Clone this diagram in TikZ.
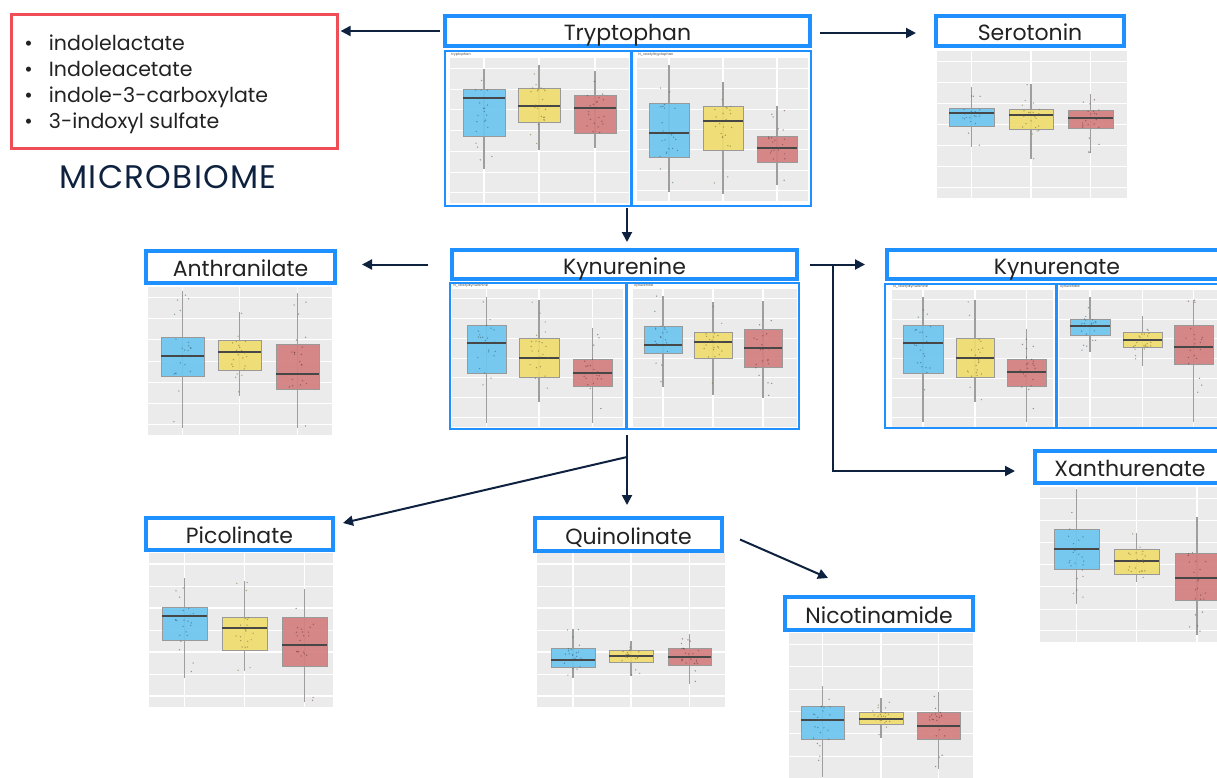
\documentclass[tikz,border=0pt]{standalone}
\usepackage{fontspec}
\setmainfont{Poppins}
\newfontfamily\spacedfont{Poppins}[LetterSpace=4]
\usetikzlibrary{arrows.meta,calc}
\definecolor{tblue}{HTML}{1E90FF}
\definecolor{navy}{HTML}{0E2240}
\definecolor{mred}{HTML}{F04E57}
\definecolor{panelbg}{HTML}{EBEBEB}
\definecolor{bblue}{HTML}{6EC6F0}
\definecolor{byel}{HTML}{F0DC6E}
\definecolor{bred}{HTML}{D47E7E}
\definecolor{titletext}{HTML}{222222}
\tikzset{
  tbox/.style 2 args={draw=tblue, line width=3pt, fill=white, minimum width=#1*0.75pt,
    minimum height=#2*0.75pt, inner sep=0pt, font=\fontsize{16.5}{19}\selectfont, text=titletext,
    text height=14.5pt, text depth=0pt},
  grp/.style 2 args={draw=tblue, line width=1.1pt, minimum width=#1*0.75pt,
    minimum height=#2*0.75pt, inner sep=0pt},
  ptitle/.style={font=\fontsize{2.6}{3}\selectfont, text=black!70, inner sep=0pt, anchor=west},
  arr/.style={draw=navy, line width=1.5pt, -{Triangle[length=7.5pt,width=7.5pt]}},
  whisk/.style={draw=black!38, line width=1.1pt},
  boxedge/.style={draw=black!40, line width=0.6pt},
  medl/.style={draw=black!72, line width=1.1pt},
}
\newcommand\gpanel[4]{%
  \fill[panelbg] (#1,#2) rectangle (#3,#4);
  \gdef\pL{#1}\gdef\pT{#2}\gdef\pR{#3}\gdef\pB{#4}%
  \foreach \k in {1,...,7}{%
    \pgfmathsetmacro\gy{#2+(\k-0.5)*(#4-#2)/7}%
    \pgfmathsetmacro\lw{mod(\k,2)==1 ? 0.8 : 0.4}%
    \draw[white, line width=\lw pt] (#1,\gy) -- (#3,\gy);
  }%
}
\newcommand\bxp[8]{%
  \pgfmathsetmacro\cx{(#1+#2)/2}%
  \draw[white, line width=0.8pt] (\cx,\pT) -- (\cx,\pB);
  \draw[whisk] (\cx,#3) -- (\cx,#7);
  \fill[#8, fill opacity=0.92] (#1,#4) rectangle (#2,#6);
  \draw[boxedge] (#1,#4) rectangle (#2,#6);
  \draw[medl] (#1,#5) -- (#2,#5);
  \foreach \i in {1,...,22}{%
    \pgfmathsetmacro\jx{\cx+9*rand}%
    \pgfmathsetmacro\jy{\i<15 ? #4+rnd*(#6-#4) : #3+rnd*(#7-#3)}%
    \fill[#8!50!black, opacity=0.6] (\jx,\jy) circle (0.55pt);
  }%
}
\begin{document}
\begin{tikzpicture}[x=0.75pt,y=-0.75pt]
\pgfmathsetseed{4242}
\useasboundingbox (0,0) rectangle (1217,778);
\clip (0,0) rectangle (1217,778);
\fill[white] (0,0) rectangle (1217,778);

% ---- Tryptophan panels
\gpanel{450}{58}{629}{203}
\bxp{463}{505}{69}{89}{98}{136}{169}{bblue}
\bxp{518}{560}{65}{88}{106}{122}{150}{byel}
\bxp{574}{616}{71}{95}{108}{133}{148}{bred}
\gpanel{637}{58}{808}{201}
\bxp{649}{689}{65}{103}{133}{157}{192}{bblue}
\bxp{703}{743}{82}{106}{121}{150}{194}{byel}
\bxp{757}{797}{106}{136}{148}{162}{185}{bred}
% ---- Serotonin
\gpanel{937}{51}{1127}{198}
\bxp{949}{994}{87}{108}{113}{126}{147}{bblue}
\bxp{1009}{1053}{84}{109}{115}{129}{159}{byel}
\bxp{1068}{1113}{94}{110}{118}{128}{153}{bred}
% ---- Anthranilate
\gpanel{148}{287}{332}{435}
\bxp{161}{204}{291}{337}{356}{376}{428}{bblue}
\bxp{218}{261}{312}{340}{352}{370}{396}{byel}
\bxp{276}{319}{293}{344}{374}{389}{428}{bred}
% ---- Kynurenine
\gpanel{452}{289}{623}{427}
\bxp{467}{506}{297}{325}{343}{373}{423}{bblue}
\bxp{519}{559}{300}{338}{358}{377}{402}{byel}
\bxp{573}{612}{328}{359}{373}{386}{423}{bred}
\gpanel{633}{289}{797}{427}
\bxp{644}{682}{296}{326}{345}{353}{387}{bblue}
\bxp{694}{732}{302}{332}{342}{358}{395}{byel}
\bxp{744}{782}{301}{329}{348}{367}{398}{bred}
% ---- Kynurenate
\gpanel{892}{290}{1053}{427}
\bxp{903}{943}{297}{325}{343}{373}{422}{bblue}
\bxp{956}{994}{300}{338}{358}{377}{402}{byel}
\bxp{1007}{1046}{329}{359}{372}{386}{422}{bred}
\gpanel{1059}{290}{1240}{427}
\bxp{1070}{1110}{297}{319}{326}{335}{352}{bblue}
\bxp{1123}{1162}{316}{332}{340}{347}{366}{byel}
\bxp{1174}{1213}{300}{325}{347}{364}{422}{bred}
% ---- Xanthurenate
\gpanel{1040}{487}{1240}{642}
\bxp{1054}{1099}{489}{529}{549}{569}{604}{bblue}
\bxp{1114}{1159}{533}{549}{561}{574}{582}{byel}
\bxp{1175}{1219}{517}{553}{578}{600}{635}{bred}
% ---- Nicotinamide
\gpanel{789}{633}{973}{790}
\bxp{801}{844}{686}{706}{720}{739}{777}{bblue}
\bxp{859}{903}{698}{712}{719}{724}{738}{byel}
\bxp{917}{960}{692}{712}{726}{739}{769}{bred}
% ---- Picolinate
\gpanel{149}{553}{333}{707}
\bxp{162}{207}{578}{607}{616}{640}{678}{bblue}
\bxp{222}{267}{581}{617}{628}{650}{671}{byel}
\bxp{282}{327}{589}{617}{645}{666}{702}{bred}
% ---- Quinolinate
\gpanel{537}{553}{725}{707}
\bxp{551}{595}{629}{648}{660}{667}{678}{bblue}
\bxp{609}{653}{641}{650}{656}{662}{676}{byel}
\bxp{668}{711}{634}{648}{657}{665}{684}{bred}

% ---- small panel titles
\node[ptitle] (pt1) at (451,54.5) {tryptophan};
\node[ptitle] (pt2) at (638,54.5) {N\_acetyltryptophan};
\node[ptitle] (pt3) at (453,286) {N\_acetylkynurenine};
\node[ptitle] (pt4) at (634,286) {kynurenine};
\node[ptitle] (pt5) at (893,287) {N\_acetylkynurenine};
\node[ptitle] (pt6) at (1060,287) {kynurenate};

% ---- group borders
\node[grp={186}{155}] (trypL) at (538,128.5) {};
\node[grp={179}{155}] (trypR) at (721.5,128.5) {};
\node[grp={176}{146}] (kynL) at (538,356) {};
\node[grp={172}{146}] (kynR) at (713,356) {};
\node[grp={171}{144}] (kyneL) at (970.5,356) {};
\node[grp={203}{144}] (kyneR) at (1158.5,356) {};

% ---- title boxes
\node[tbox={365}{30}] (tryp) at (627.5,31) {Tryptophan};
\node[tbox={188}{30}] (sero) at (1030,31) {Serotonin};
\node[tbox={189}{32}] (anth) at (240.5,267) {Anthranilate};
\node[tbox={345}{29}] (kyn) at (624.5,264.5) {Kynurenine};
\node[tbox={340}{29}] (kyne) at (1057,264.5) {Kynurenate};
\node[tbox={190}{32}] (xan) at (1130,467) {Xanthurenate};
\node[tbox={187}{32}] (pic) at (239.5,534) {Picolinate};
\node[tbox={187}{33}] (quin) at (628.5,534.5) {Quinolinate};
\node[tbox={188}{33}] (nic) at (879,613.5) {Nicotinamide};

% ---- microbiome
\node[draw=mred, line width=2.25pt, minimum width=326*0.75pt, minimum height=134*0.75pt,
      inner sep=0pt] (micro) at (174.5,81.5) {};
\node[anchor=west, inner sep=0pt, text=titletext, font=\fontsize{15.4}{19.5}\selectfont] (mlist) at (24,84)
  {\begin{tabular}{@{}p{18.5pt}@{}l@{}}
   • & indolelactate\\
   • & Indoleacetate\\
   • & indole-3-carboxylate\\
   • & 3-indoxyl sulfate
   \end{tabular}};
\node[text=navy, font=\spacedfont\fontsize{24.5}{28}\selectfont, inner sep=0pt] (mlabel) at (168,177) {MICROBIOME};

% ---- connectors
\coordinate (kd) at (627,457);
\draw[arr, shorten <=2.25pt, shorten >=1.2pt] (tryp.west) -- (tryp.west -| micro.east);
\draw[arr, shorten <=6pt, shorten >=13.5pt] ([yshift=-1.5pt]tryp.east) -- ([yshift=-1.5pt]tryp.east -| sero.west);
\draw[arr, shorten <=1.2pt, shorten >=4.5pt] (kd |- trypL.south) -- (kd |- kyn.north);
\draw[arr, shorten <=16.5pt, shorten >=18.75pt] (kyn.west) -- (kyn.west -| anth.east);
\draw[arr, shorten <=8.25pt, shorten >=15pt] (kyn.east) -- (kyn.east -| kyne.west);
\coordinate (kb) at (833,264.5);
\draw[arr, shorten >=13.5pt] (kb) |- ($(xan.west)+(0,4)$);
\draw[arr, shorten <=4pt, shorten >=8.25pt] (kd |- kynL.south) -- (kd |- quin.north);
\draw[arr] (kd) -- ($(pic.east)+(8,-11)$);
\draw[arr] ($(quin.east)+(16,5)$) -- ($(nic.north west)+(45,-17)$);
\end{tikzpicture}
\end{document}
